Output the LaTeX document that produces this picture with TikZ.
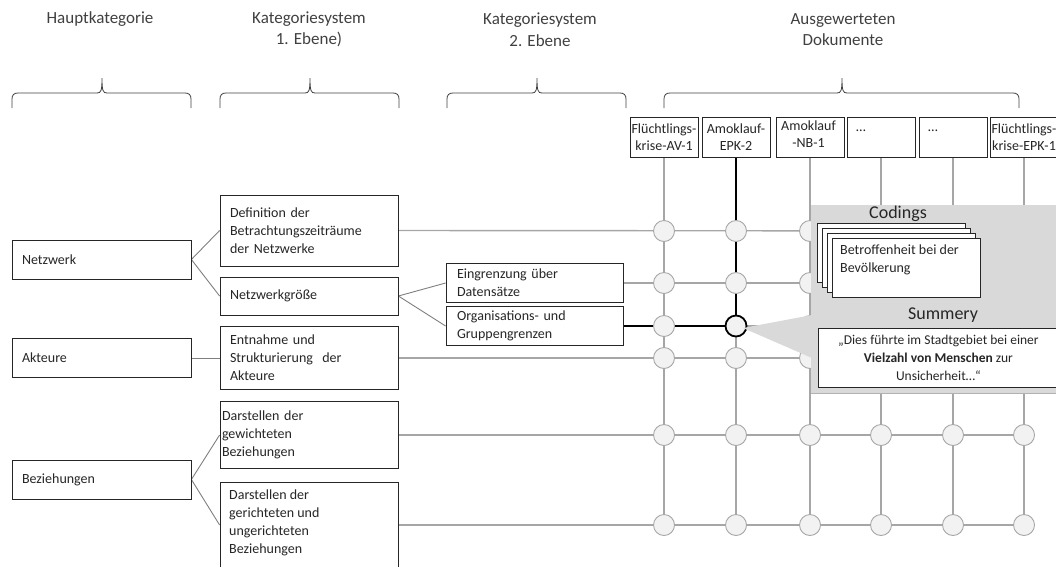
\documentclass[tikz,border=0pt]{standalone}
\usepackage{fontspec}
\setmainfont{Carlito}
\usetikzlibrary{backgrounds}
\definecolor{txt}{HTML}{262626}
\definecolor{hdr}{HTML}{404040}
\definecolor{gridline}{HTML}{A6A6A6}
\definecolor{knotfill}{HTML}{F2F2F2}
\definecolor{calloutfill}{HTML}{D9D9D9}
\definecolor{treeline}{HTML}{7F7F7F}

% curly brace over a column: left end, cusp, right end
\newcommand\catbrace[3]{%
  \draw[brace] (#1,108) -- (#1,99) .. controls (#1,95) and (#1+2,93) .. (#1+6,93)
    -- (#2-5,93) .. controls (#2-1,93) and (#2,91) .. (#2,78)
    .. controls (#2,91) and (#2+1,93) .. (#2+5,93)
    -- (#3-6,93) .. controls (#3-2,93) and (#3,95) .. (#3,99) -- (#3,108);}

\begin{document}
\begin{tikzpicture}[x=1pt,y=-1pt,
  box/.style={draw=black!85, line width=0.8pt, fill=white, text=txt, align=left,
    inner xsep=10pt, inner ysep=0pt, font=\fontsize{14}{18}\selectfont},
  docbox/.style={draw=black!85, line width=0.8pt, fill=white, text=txt, align=center,
    inner sep=0pt, minimum width=68pt, minimum height=40pt, font=\fontsize{14}{17}\selectfont},
  plain/.style={text=txt, align=left, inner sep=0pt, font=\fontsize{14}{18}\selectfont},
  head/.style={text=hdr, align=center, inner sep=0pt, font=\fontsize{17}{21.5}\selectfont},
  brace/.style={draw=hdr, line width=0.8pt},
  knot/.style={circle, draw=gridline, fill=knotfill, line width=0.9pt, minimum size=21pt, inner sep=0pt},
  hotknot/.style={knot, draw=black, line width=1.8pt},
  gridln/.style={draw=gridline, line width=1.4pt},
  hotline/.style={draw=black, line width=1.8pt},
  tree/.style={draw=treeline, line width=0.9pt},
  card/.style={draw=black!85, line width=0.8pt, fill=white, anchor=north west,
    minimum width=148pt, minimum height=59pt, inner sep=0pt},
]
\useasboundingbox (0,0) rectangle (1056,566);
\clip (0,0) rectangle (1056,566);

% column headings and braces
\node[head] (h1) at (100,19) {Hauptkategorie};
\node[head] (h2) at (309,29.5) {Kategoriesystem\\1. Ebene)};
\node[head] (h3) at (540,29.5) {Kategoriesystem\\2. Ebene};
\node[head] (h4) at (843,29.5) {Ausgewerteten\\Dokumente};
\catbrace{12}{102}{191}
\catbrace{220}{310}{399}
\catbrace{447}{537}{626}
\catbrace{664}{842}{1019}

% main categories
\node[box, text width=159pt, minimum height=39pt] (netz) at (101.5,259.5) {Netzwerk};
\node[box, text width=159pt, minimum height=39pt] (akt) at (101.5,358) {Akteure};
\node[box, text width=159pt, minimum height=39pt] (bez) at (101.5,479.5) {Beziehungen};

% first level
\node[box, text width=158pt, minimum height=71pt] (def) at (309,230.5)
  {Definition der\\Betrachtungszeiträume\\der Netzwerke};
\node[box, text width=158pt, minimum height=38pt] (ngr) at (309,296) {Netzwerkgröße};
\node[box, text width=158pt, minimum height=63pt] (ent) at (309,358)
  {Entnahme und\\Strukturierung\ \ der\\Akteure};
\node[box, inner xsep=2pt, text width=174pt, minimum height=67pt] (dar1) at (309,435)
  {Darstellen der\\gewichteten\\Beziehungen};
\node[box, text width=158pt, minimum height=86pt] (dar2) at (309,525) {};
\node[plain, anchor=north west] (dar2txt) at (229,490)
  {Darstellen der\\gerichteten und\\ungerichteten\\Beziehungen};

% second level
\node[box, inner xsep=11pt, text width=155pt, minimum height=39pt] (ein) at (534.5,283)
  {Eingrenzung über\\Datensätze};
\node[box, inner xsep=11pt, text width=155pt, minimum height=39pt] (org) at (534.5,326)
  {Organisations- und\\Gruppengrenzen};

% evaluated documents
\node[docbox] (doc1) at (664,137) {Flüchtlings-\\krise-AV-1};
\node[docbox] (doc2) at (736,137) {Amoklauf-\\EPK-2};
\node[docbox] (doc3) at (810,137) {};
\node[plain, align=center] (doc3txt) at (808.5,134) {Amoklauf\\[-1pt]-NB-1};
\node[docbox] (doc4) at (881,137) {};
\node[plain, anchor=west] (doc4txt) at (856,131) {…};
\node[docbox] (doc5) at (953,137) {};
\node[plain, anchor=west] (doc5txt) at (928,131) {…};
\node[docbox] (doc6) at (1024,137) {Flüchtlings-\\krise-EPK-1};

% grid knots
\foreach \c/\x in {1/664,2/736,3/810,4/881,5/953,6/1024}
  \foreach \r/\y in {1/231,2/283,3/326,4/358,5/435,6/525}{
    \ifnum\c\r=23
      \node[hotknot] (k\c\r) at (\x,\y) {};
    \else
      \node[knot] (k\c\r) at (\x,\y) {};
    \fi
  }

\begin{scope}[on background layer]
  % category tree
  \draw[tree] (netz.east) -- (def.west);
  \draw[tree] (netz.east) -- (ngr.west);
  \draw[tree] (akt.east) -- (ent.west);
  \draw[tree] (bez.east) -- (dar1.west);
  \draw[tree] (bez.east) -- (dar2.west);
  \draw[tree] (ngr.east) -- (ein.west);
  \draw[tree] (ngr.east) -- (org.west);
  % rows
  \draw[gridln] (def.east) -- (k61);
  \draw[gridln] (ein.east) -- (k62);
  \draw[hotline] (org.east) -- (k13);
  \draw[hotline] (k13) -- (k23);
  \draw[gridln] (k23) -- (k63);
  \draw[gridln] (ent.east) -- (k64);
  \draw[gridln] (dar1.east) -- (k65);
  \draw[gridln] (dar2.east) -- (k66);
  % columns
  \foreach \c in {1,3,4,5,6}
    \draw[gridln] (doc\c.south) -- (k\c6);
  \draw[hotline] (doc2.south) -- (k23);
  \draw[gridln] (k23) -- (k26);
\end{scope}

% callout with codings and summary
\node[fill=calloutfill, anchor=north west,
  minimum width=252pt, minimum height=188pt, inner sep=0pt] (callout) at (811,205) {};
\draw[draw=black!30, line width=1pt] (callout.south west) -- (callout.south east);
\coordinate (tip) at (743,328);
\coordinate (wedgetop) at (812,315);
\coordinate (wedgebot) at (812,358);
\fill[calloutfill] (tip) -- (wedgetop) -- (wedgebot) -- cycle;

\node[text=txt, inner sep=0pt, font=\fontsize{18}{20}\selectfont] (codings) at (898,214) {Codings};
\foreach \i in {0,...,3}
  \node[card] (card\i) at (817+5*\i,223+5*\i) {};
\node[plain, anchor=north west] (cardtxt) at (840,245) {Betroffenheit bei der\\Bevölkerung};

\node[text=txt, inner sep=0pt, font=\fontsize{18}{20}\selectfont] (summery) at (943,315) {Summery};
\node[draw=black!85, line width=0.8pt, fill=white, text=txt, align=center, anchor=north west,
  minimum width=240pt, minimum height=59pt, inner sep=0pt, font=\fontsize{13.5}{18}\selectfont]
  (summary) at (818,328)
  {„Dies führte im Stadtgebiet bei einer\\\textbf{Vielzahl von Menschen} zur\\Unsicherheit…“};
\end{tikzpicture}
\end{document}
